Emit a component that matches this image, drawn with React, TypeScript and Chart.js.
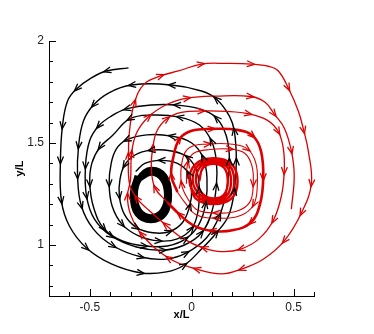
import React, { useEffect, useRef } from 'react';
import { Chart, registerables } from 'chart.js';

Chart.register(...registerables);

type P = [number, number];

// Axis ranges and ticks
const xRange: P = [-0.7, 0.6];
const yRange: P = [0.75, 2];
const xMajorTicks = [-0.5, 0, 0.5];
const xMinorTicks = [-0.6, -0.4, -0.3, -0.2, -0.1, 0.1, 0.2, 0.3, 0.4, 0.6];
const yMajorTicks = [1, 1.5, 2];
const yMinorTicks = [0.8, 0.9, 1.1, 1.2, 1.3, 1.4, 1.6, 1.7, 1.8, 1.9];

// Black trajectory (spirals inward, counter-clockwise on screen)
const blackLoop1: P[] = [[-0.31,1.868],[-0.418,1.853],[-0.492,1.819],[-0.565,1.765],[-0.609,1.706],[-0.634,1.583],[-0.644,1.412],[-0.639,1.216],[-0.6,1.093],[-0.516,0.985],[-0.394,0.907],[-0.247,0.863],[-0.124,0.868],[-0.036,0.902],[0.048,0.98],[0.121,1.059],[0.18,1.142],[0.209,1.265],[0.219,1.412],[0.209,1.559],[0.185,1.632],[0.121,1.716],[0.048,1.755],[-0.1,1.784],[-0.296,1.784]];
const blackLoop2: P[] = [[-0.408,1.745],[-0.482,1.686],[-0.531,1.608],[-0.555,1.485],[-0.56,1.338],[-0.541,1.191],[-0.482,1.078],[-0.384,0.995],[-0.247,0.941],[-0.124,0.931],[-0.026,0.961],[0.072,1.034],[0.136,1.142],[0.17,1.265],[0.185,1.412],[0.17,1.534],[0.121,1.623],[0.038,1.667],[-0.075,1.686],[-0.198,1.686],[-0.32,1.667]];
const blackLoop3: P[] = [[-0.394,1.632],[-0.457,1.583],[-0.501,1.51],[-0.521,1.387],[-0.516,1.24],[-0.477,1.127],[-0.394,1.044],[-0.271,0.99],[-0.139,0.975],[-0.036,1.0],[0.048,1.059],[0.097,1.157],[0.121,1.289],[0.121,1.412],[0.097,1.51],[0.038,1.588],[-0.06,1.627],[-0.198,1.637],[-0.305,1.618]];
const blackLoop4: P[] = [[-0.39,1.535],[-0.45,1.48],[-0.49,1.4],[-0.5,1.3],[-0.48,1.18],[-0.43,1.08],[-0.34,1.02],[-0.23,0.995],[-0.12,0.995],[-0.03,1.03],[0.035,1.1],[0.068,1.2],[0.075,1.33],[0.055,1.43],[0.0,1.5],[-0.1,1.534],[-0.22,1.54],[-0.32,1.515]];
const blackLoop5: P[] = [[-0.37,1.47],[-0.395,1.4],[-0.405,1.3],[-0.39,1.19],[-0.34,1.1],[-0.26,1.045],[-0.16,1.02],[-0.07,1.03],[0.0,1.08],[0.03,1.16],[0.037,1.27],[0.025,1.36],[-0.02,1.43],[-0.1,1.461],[-0.2,1.465],[-0.28,1.44]];
const blackLoop6: P[] = [[-0.33,1.39],[-0.352,1.32],[-0.355,1.24],[-0.33,1.15],[-0.27,1.085],[-0.19,1.06],[-0.11,1.065],[-0.045,1.11],[-0.01,1.19],[0.0,1.27],[-0.015,1.35],[-0.07,1.4],[-0.15,1.415],[-0.23,1.4],[-0.275,1.36]];
const blackRingA: P[] = [[-0.272,1.341],[-0.296,1.245],[-0.272,1.149],[-0.2,1.115],[-0.128,1.149],[-0.104,1.245],[-0.128,1.341],[-0.2,1.375]];
const blackRingB: P[] = [[-0.262,1.33],[-0.284,1.245],[-0.262,1.16],[-0.2,1.129],[-0.138,1.16],[-0.116,1.245],[-0.138,1.33],[-0.2,1.361]];
const blackRingC: P[] = [[-0.252,1.32],[-0.272,1.245],[-0.252,1.17],[-0.2,1.143],[-0.148,1.17],[-0.128,1.245],[-0.148,1.32],[-0.2,1.347],[-0.252,1.32]];

// Red trajectory (spirals outward, clockwise on screen)
const redRing1: P[] = [[0.037,1.313],[0.055,1.377],[0.107,1.398],[0.16,1.377],[0.177,1.313],[0.16,1.249],[0.107,1.228],[0.055,1.249]];
const redRing2: P[] = [[0.021,1.313],[0.043,1.384],[0.107,1.407],[0.172,1.384],[0.193,1.313],[0.172,1.243],[0.107,1.219],[0.043,1.243]];
const redRing3: P[] = [[0.005,1.313],[0.031,1.39],[0.107,1.416],[0.184,1.39],[0.209,1.313],[0.184,1.236],[0.107,1.21],[0.031,1.236]];
const redRing4: P[] = [[-0.011,1.313],[0.019,1.397],[0.107,1.425],[0.196,1.397],[0.225,1.313],[0.196,1.229],[0.107,1.201],[0.019,1.229],[-0.011,1.313]];
const redThin1: P[] = [[-0.026,1.3],[-0.02,1.4],[0.01,1.45],[0.09,1.468],[0.19,1.47],[0.26,1.45],[0.295,1.39],[0.302,1.3],[0.285,1.21],[0.22,1.165],[0.12,1.157],[0.03,1.17],[-0.015,1.22]];
const redThin2: P[] = [[-0.05,1.3],[-0.045,1.42],[-0.01,1.478],[0.08,1.495],[0.19,1.495],[0.275,1.47],[0.315,1.4],[0.322,1.3],[0.305,1.2],[0.24,1.145],[0.12,1.132],[0.02,1.15],[-0.035,1.21],[-0.07,1.26]];
const redThick: P[] = [[-0.07,1.26],[-0.1,1.34],[-0.09,1.43],[-0.06,1.52],[0.0,1.56],[0.1,1.569],[0.22,1.565],[0.3,1.535],[0.34,1.46],[0.351,1.33],[0.335,1.2],[0.29,1.11],[0.2,1.072],[0.1,1.069],[0.01,1.095],[-0.06,1.15],[-0.12,1.21]];
const redLoop3: P[] = [[-0.12,1.21],[-0.18,1.28],[-0.198,1.38],[-0.19,1.48],[-0.17,1.56],[-0.12,1.62],[-0.05,1.65],[0.05,1.657],[0.17,1.655],[0.28,1.643],[0.37,1.612],[0.425,1.555],[0.45,1.47],[0.454,1.36],[0.44,1.24],[0.4,1.12],[0.33,1.03],[0.24,0.98],[0.147,0.968],[0.06,0.985],[-0.04,1.03],[-0.13,1.1],[-0.21,1.17],[-0.27,1.23]];
const redLoop1: P[] = [[-0.305,1.3],[-0.31,1.44],[-0.305,1.56],[-0.28,1.7],[-0.232,1.79],[-0.15,1.83],[-0.065,1.853],[0.048,1.887],[0.17,1.89],[0.293,1.887],[0.38,1.875],[0.425,1.853],[0.474,1.77],[0.523,1.657],[0.55,1.56],[0.572,1.461],[0.587,1.3],[0.538,1.157],[0.454,1.02],[0.351,0.93],[0.244,0.882],[0.147,0.858],[0.023,0.882],[-0.114,0.936],[-0.247,1.054],[-0.3,1.15],[-0.315,1.24]];
const redLoop2: P[] = [[-0.3,1.32],[-0.295,1.45],[-0.27,1.55],[-0.21,1.63],[-0.12,1.69],[-0.02,1.72],[0.12,1.73],[0.29,1.728],[0.36,1.7],[0.405,1.642],[0.454,1.574],[0.489,1.461],[0.503,1.338],[0.489,1.176]];

const BLACK = '#000000';
const RED = '#dc0000';
const FONT = 'Liberation Sans, Arial, sans-serif';

const toXY = (pts: P[]) => pts.map(([x, y]) => ({ x, y }));

const arrowPlugin = {
  id: 'flowArrows',
  afterDatasetsDraw(chart: any) {
    const ctx = chart.ctx;
    chart.data.datasets.forEach((ds: any, di: number) => {
      const spacing = ds.arrowSpacing;
      if (!spacing) return;
      const pts = chart.getDatasetMeta(di).data;
      let acc = spacing * 0.55;
      ctx.save();
      ctx.strokeStyle = ds.borderColor;
      ctx.lineWidth = 1.3;
      for (let i = 1; i < pts.length - 1; i++) {
        acc += Math.hypot(pts[i].x - pts[i - 1].x, pts[i].y - pts[i - 1].y);
        if (acc < spacing) continue;
        acc = 0;
        const dx = pts[i + 1].x - pts[i - 1].x;
        const dy = pts[i + 1].y - pts[i - 1].y;
        const len = Math.hypot(dx, dy) || 1;
        const ux = dx / len, uy = dy / len;
        const tx = pts[i].x + ux * 3, ty = pts[i].y + uy * 3;
        const bx = tx - ux * 7.5, by = ty - uy * 7.5;
        ctx.beginPath();
        ctx.moveTo(bx - uy * 3, by + ux * 3);
        ctx.lineTo(tx, ty);
        ctx.lineTo(bx + uy * 3, by - ux * 3);
        ctx.stroke();
      }
      ctx.restore();
    });
  },
};

const tickPlugin = {
  id: 'inwardTicks',
  afterDraw(chart: any) {
    const { ctx, scales } = chart;
    const xs = scales.x, ys = scales.y;
    const bottom = ys.getPixelForValue(yRange[0]);
    const left = xs.getPixelForValue(xRange[0]);
    ctx.save();
    ctx.strokeStyle = '#000';
    ctx.lineWidth = 1;
    const drawX = (vals: number[], len: number) => vals.forEach((v) => {
      const px = Math.round(xs.getPixelForValue(v)) + 0.5;
      ctx.beginPath(); ctx.moveTo(px, bottom); ctx.lineTo(px, bottom - len); ctx.stroke();
    });
    const drawY = (vals: number[], len: number) => vals.forEach((v) => {
      const py = Math.round(ys.getPixelForValue(v)) + 0.5;
      ctx.beginPath(); ctx.moveTo(left, py); ctx.lineTo(left + len, py); ctx.stroke();
    });
    drawX(xMajorTicks, 7); drawX(xMinorTicks, 4);
    drawY(yMajorTicks, 7); drawY(yMinorTicks, 4);
    ctx.restore();
  },
};

export default function App() {
  const ref = useRef<HTMLCanvasElement | null>(null);
  useEffect(() => {
    if (!ref.current) return;
    const common = { pointRadius: 0, pointHoverRadius: 0, fill: false, tension: 0.4 };
    const chart = new Chart(ref.current, {
      type: 'line',
      data: {
        datasets: [
          { ...common, label: 'red outer', data: toXY([...redLoop3, ...redLoop1, ...redLoop2]), borderColor: RED, borderWidth: 1.3, arrowSpacing: 30 } as any,
          { ...common, label: 'red thick', data: toXY(redThick), borderColor: RED, borderWidth: 2.6, arrowSpacing: 34 } as any,
          { ...common, label: 'red thin', data: toXY([...redThin1, ...redThin2]), borderColor: RED, borderWidth: 1.1, arrowSpacing: 40 } as any,
          { ...common, label: 'red ring', data: toXY([...redRing1, ...redRing2, ...redRing3, ...redRing4]), borderColor: RED, borderWidth: 2.4, arrowSpacing: 0 } as any,
          { ...common, label: 'black spiral', data: toXY([...blackLoop1, ...blackLoop2, ...blackLoop3, ...blackLoop4, ...blackLoop5, ...blackLoop6]), borderColor: BLACK, borderWidth: 1.4, arrowSpacing: 30 } as any,
          { ...common, label: 'black ring', data: toXY([...blackRingA, ...blackRingB, ...blackRingC]), borderColor: BLACK, borderWidth: 3.3, arrowSpacing: 0 } as any,
        ],
      },
      options: {
        animation: false,
        responsive: true,
        maintainAspectRatio: false,
        layout: { padding: { left: 0, top: 41, right: 60, bottom: 0 } },
        plugins: { legend: { display: false }, tooltip: { enabled: false } },
        events: [],
        scales: {
          x: {
            type: 'linear',
            min: xRange[0],
            max: xRange[1],
            afterFit: (s: any) => { s.height = 38; },
            grid: { display: false, drawTicks: false },
            border: { display: true, color: '#000', width: 1 },
            ticks: {
              stepSize: 0.5,
              includeBounds: false,
              padding: 4,
              color: '#222',
              font: { family: FONT, size: 12 },
              callback: (v: any) => String(Math.round(Number(v) * 10) / 10),
            },
            title: {
              display: true,
              text: 'x/L',
              color: '#000',
              font: { family: FONT, size: 11, weight: 'bold' },
              padding: { top: 0, bottom: 12 },
            },
          },
          y: {
            type: 'linear',
            min: yRange[0],
            max: yRange[1],
            afterFit: (s: any) => { s.width = 49; },
            grid: { display: false, drawTicks: false },
            border: { display: true, color: '#000', width: 1 },
            ticks: {
              stepSize: 0.5,
              includeBounds: false,
              padding: 5,
              color: '#222',
              font: { family: FONT, size: 12 },
              callback: (v: any) => String(Math.round(Number(v) * 10) / 10),
            },
            title: {
              display: true,
              text: 'y/L',
              color: '#000',
              font: { family: FONT, size: 11, weight: 'bold' },
              padding: { top: 13, bottom: 0 },
            },
          },
        },
      } as any,
      plugins: [arrowPlugin, tickPlugin],
    });
    return () => chart.destroy();
  }, []);
  return (
    <div style={{ position: 'absolute', left: 0, top: 0, width: 374, height: 334, background: '#fff' }}>
      <canvas ref={ref} />
    </div>
  );
}
